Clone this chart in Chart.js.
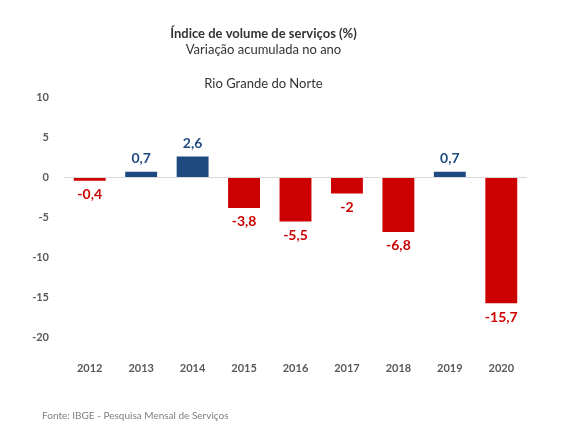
<!DOCTYPE html>
<html>
<head>
<meta charset="utf-8">
<script src="https://cdn.jsdelivr.net/npm/chart.js@4"></script>
<style>
  html, body { margin: 0; padding: 0; background: #fff; }
  #wrap { width: 579px; height: 431px; position: relative; }
</style>
</head>
<body>
<div id="wrap"><canvas id="servicosChart"></canvas></div>
<script>
// dados do gráfico
const anos = ['2012', '2013', '2014', '2015', '2016', '2017', '2018', '2019', '2020'];
const variacao = [-0.4, 0.7, 2.6, -3.8, -5.5, -2, -6.8, 0.7, -15.7];
const yTicks = [10, 5, 0, -5, -10, -15, -20];

const AZUL = '#1f4a80';
const VERMELHO = '#cc0000';
const FONTE = 'Lato, "Open Sans", sans-serif';

const fmt = v => String(v).replace('.', ',');

// rótulos de valor: acima das barras positivas, abaixo das negativas
const rotulosPlugin = {
    id: 'rotulos',
    afterDatasetsDraw(chart) {
        const ctx = chart.ctx;
        const meta = chart.getDatasetMeta(0);
        ctx.save();
        ctx.font = 'bold 14px ' + FONTE;
        ctx.textAlign = 'center';
        ctx.textBaseline = 'middle';
        meta.data.forEach((bar, i) => {
            const v = variacao[i];
            ctx.fillStyle = v >= 0 ? AZUL : VERMELHO;
            const y = v >= 0 ? bar.y - 13 : bar.y + 14;
            ctx.fillText(fmt(v), bar.x, y);
        });
        ctx.restore();
    }
};

// nota de rodapé
const rodapePlugin = {
    id: 'rodape',
    afterDraw(chart) {
        const ctx = chart.ctx;
        ctx.save();
        ctx.font = '10px ' + FONTE;
        ctx.fillStyle = '#7f7f7f';
        ctx.textAlign = 'left';
        ctx.textBaseline = 'middle';
        ctx.fillText('Fonte: IBGE - Pesquisa Mensal de Serviços', 42, 416);
        ctx.restore();
    }
};

new Chart(document.getElementById('servicosChart'), {
    type: 'bar',
    data: {
        labels: anos,
        datasets: [{
            data: variacao,
            backgroundColor: variacao.map(v => v >= 0 ? AZUL : VERMELHO),
            borderWidth: 0,
            categoryPercentage: 1,
            barPercentage: 0.62
        }]
    },
    options: {
        responsive: true,
        maintainAspectRatio: false,
        animation: false,
        layout: { padding: { left: 0, right: 52, top: 0, bottom: 32 } },
        plugins: {
            legend: { display: false },
            tooltip: { enabled: false },
            title: {
                display: true,
                text: 'Índice de volume de serviços (%)',
                color: '#333333',
                font: { family: FONTE, size: 13, weight: 'bold', lineHeight: 1.2 },
                padding: { top: 26, bottom: 0 }
            },
            subtitle: {
                display: true,
                text: ['Variação acumulada no ano', '', 'Rio Grande do Norte'],
                color: '#333333',
                font: { family: FONTE, size: 13, weight: 'normal', lineHeight: 1.3 },
                padding: { top: 0, bottom: 5 }
            }
        },
        scales: {
            y: {
                min: yTicks[yTicks.length - 1],
                max: yTicks[0],
                afterBuildTicks: scale => { scale.ticks = yTicks.map(v => ({ value: v })); },
                afterFit: scale => { scale.width = 64; },
                border: { display: false },
                grid: {
                    drawTicks: false,
                    color: c => c.tick && c.tick.value === 0 ? '#d9d9d9' : 'rgba(0,0,0,0)'
                },
                ticks: {
                    padding: 15,
                    color: '#595959',
                    font: { family: FONTE, size: 11, weight: 'bold' }
                }
            },
            x: {
                border: { display: false },
                grid: { display: false, drawTicks: false },
                ticks: {
                    padding: 24,
                    color: '#595959',
                    font: { family: FONTE, size: 11, weight: 'bold' }
                }
            }
        }
    },
    plugins: [rotulosPlugin, rodapePlugin]
});
</script>
</body>
</html>
